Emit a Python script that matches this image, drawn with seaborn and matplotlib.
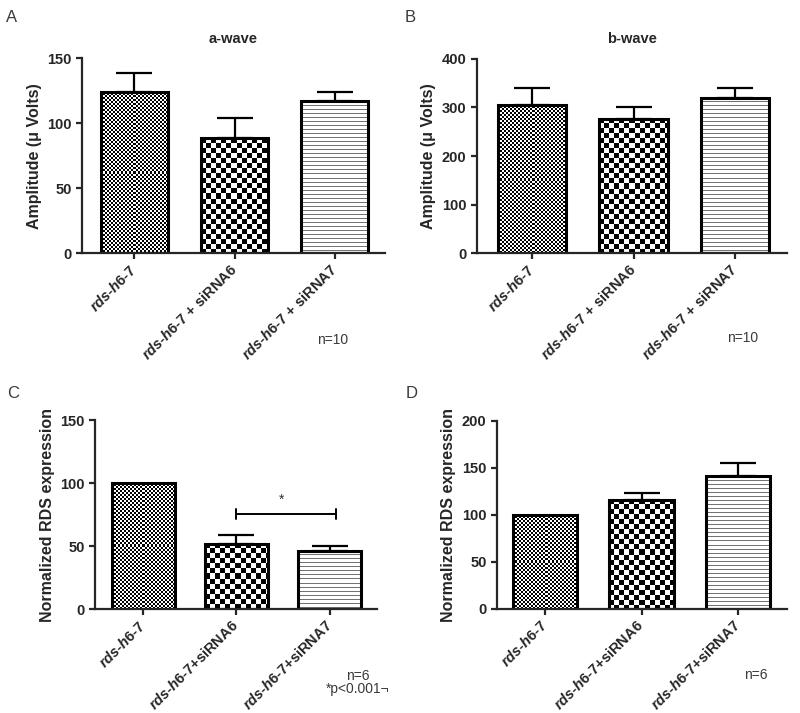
import numpy as np
import matplotlib
matplotlib.use('Agg')
import matplotlib.pyplot as plt
import seaborn as sns

sns.set_style('ticks')
plt.rcParams['font.family'] = ['Liberation Sans', 'DejaVu Sans']
plt.rcParams['mathtext.fontset'] = 'custom'
plt.rcParams['mathtext.it'] = 'Liberation Sans:italic:bold'
plt.rcParams['mathtext.rm'] = 'Liberation Sans:bold'

# data
labels_ab = [r'$\mathit{rds}$-$\mathit{h6}$-$\mathit{7}$',
             r'$\mathit{rds}$-$\mathit{h6}$-$\mathit{7}$ + siRNA6',
             r'$\mathit{rds}$-$\mathit{h6}$-$\mathit{7}$ + siRNA7']
labels_cd = [r'$\mathit{rds}$-$\mathit{h6}$-$\mathit{7}$',
             r'$\mathit{rds}$-$\mathit{h6}$-$\mathit{7}$+siRNA6',
             r'$\mathit{rds}$-$\mathit{h6}$-$\mathit{7}$+siRNA7']

a_wave = [124, 88.5, 117]
a_wave_err = [15, 16, 7.5]
b_wave = [305, 276, 319]
b_wave_err = [34, 25, 21]
rds_c = [100, 51.7, 46]
rds_c_err = [0, 7.2, 4.4]
rds_d = [100, 116, 141]
rds_d_err = [0, 7.5, 13.5]

sig_pair = (1, 2.07)
sig_y = 75.5

textures = ['fine', 'coarse', 'lines']

fig = plt.figure(figsize=(8, 7.13), dpi=100)
H = 713.0


def make_ax(l, r, t, b):
    return fig.add_axes([l / 800, (H - b) / H, (r - l) / 800, (b - t) / H])


def texture(kind, h, w):
    yy, xx = np.mgrid[0:h, 0:w]
    if kind == 'fine':
        return ((yy // 2 + xx // 2) % 2).astype(float)
    if kind == 'coarse':
        return ((yy // 5 + xx // 5) % 2).astype(float)
    return 1 - 0.55 * (yy % 4 == 0)


def panel(ax, cats, vals, errs, ymax, step, xlim, ylabel, title=None):
    sns.barplot(x=cats, y=vals, ax=ax, color='white', edgecolor='black',
                linewidth=2.2, width=0.67, errorbar=None, zorder=2)
    ax.set_xlim(*xlim)
    ax.set_ylim(0, ymax)
    ax.set_yticks(np.arange(0, ymax + 1, step))
    idx = [i for i, e in enumerate(errs) if e > 0]
    ax.errorbar([i for i in idx], [vals[i] for i in idx],
                yerr=[[0] * len(idx), [errs[i] for i in idx]],
                fmt='none', ecolor='black', elinewidth=1.6, capsize=13,
                capthick=1.6, zorder=1.5)
    for p, kind in zip(ax.patches, textures):
        p.set_facecolor('none')
        x0, w, hgt = p.get_x(), p.get_width(), p.get_height()
        (px0, py0), (px1, py1) = ax.transData.transform([(x0, 0), (x0 + w, hgt)])
        nw, nh = max(int(abs(px1 - px0)), 2), max(int(abs(py1 - py0)), 2)
        im = ax.imshow(texture(kind, nh, nw), cmap='gray', vmin=0, vmax=1,
                       extent=(x0, x0 + w, 0, hgt), aspect='auto',
                       interpolation='nearest', zorder=1)
        im.set_clip_path(p)
    ax.set_xlim(*xlim)
    ax.set_ylim(0, ymax)
    sns.despine(ax=ax)
    for s in ['left', 'bottom']:
        ax.spines[s].set_linewidth(1.6)
    ax.tick_params(width=1.6, length=4, labelsize=10.5, direction='out')
    for t in ax.get_yticklabels():
        t.set_fontweight('bold')
    ax.set_xticks(range(len(cats)))
    ax.set_xticklabels(cats, rotation=45, ha='right', va='center',
                       rotation_mode='anchor', fontweight='bold', fontsize=10.5)
    ax.tick_params(axis='x', pad=6)
    ax.set_ylabel(ylabel, fontsize=11.5, fontweight='bold')
    if title:
        ax.set_title(title, fontsize=10.5, fontweight='bold', pad=11)


axA = make_ax(82, 385, 58.5, 253.3)
panel(axA, labels_ab, a_wave, a_wave_err, 150, 50, (-0.52, 2.5),
      'Amplitude (μ Volts)', 'a-wave')
axB = make_ax(477, 787, 58.7, 253.3)
panel(axB, labels_ab, b_wave, b_wave_err, 400, 100, (-0.54, 2.51),
      'Amplitude (μ Volts)', 'b-wave')
axC = make_ax(95, 377, 420, 609.3)
panel(axC, labels_cd, rds_c, rds_c_err, 150, 50, (-0.52, 2.51),
      'Normalized RDS expression')
axD = make_ax(497, 787, 420.7, 608.7)
panel(axD, labels_cd, rds_d, rds_d_err, 200, 50, (-0.5, 2.51),
      'Normalized RDS expression')

# significance bracket on C
axC.plot([sig_pair[0], sig_pair[1]], [sig_y, sig_y], color='black', lw=1.4)
for xv in sig_pair:
    axC.plot([xv, xv], [sig_y - 4, sig_y + 4], color='black', lw=1.4)
axC.text(np.mean(sig_pair) - 0.05, sig_y + 6, '*', ha='center', va='bottom',
         fontsize=10, color='#333333')

gray = '#3a3a3a'
for lab, x, y in [('A', 12, 18), ('B', 410, 18), ('C', 13, 393), ('D', 412, 393)]:
    fig.text(x / 800, 1 - y / H, lab, fontsize=12, color=gray, ha='center', va='center')
for txt, x, y in [('n=10', 333, 340), ('n=10', 743, 338), ('n=6', 358, 676),
                  ('*p<0.001¬', 358, 689), ('n=6', 756, 675)]:
    fig.text(x / 800, 1 - y / H, txt, fontsize=10, color=gray, ha='center', va='center')

fig.savefig('out.png', dpi=100)
